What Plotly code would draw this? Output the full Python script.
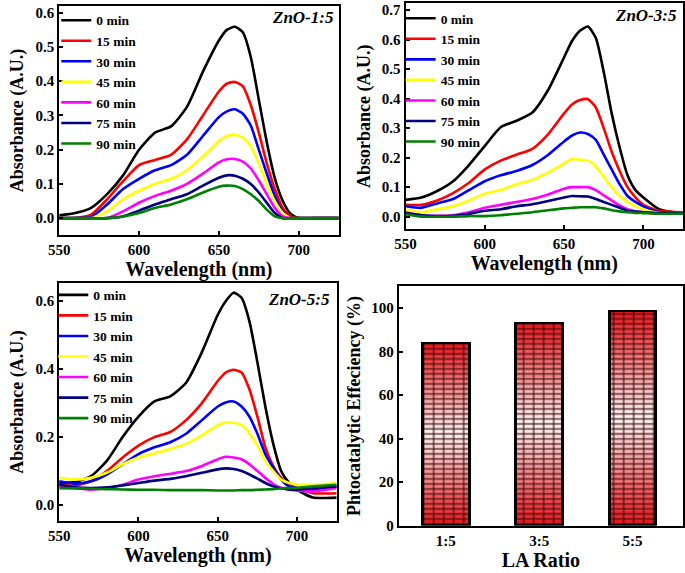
import plotly.graph_objects as go

# ---------------- data ----------------
wavelength = [550, 560, 570, 580, 590, 600, 610, 620, 630, 640, 650, 655, 660,
              665, 670, 675, 680, 685, 690, 695, 700, 710, 725]
times = ["0 min", "15 min", "30 min", "45 min", "60 min", "75 min", "90 min"]
colors = ["#000000", "#ff0000", "#0000ff", "#ffff00", "#ff00ff", "#000080", "#008000"]

zno_15 = [
    [0.008, 0.015, 0.03, 0.07, 0.125, 0.2, 0.25, 0.268, 0.325, 0.428, 0.519, 0.55, 0.559, 0.543, 0.47, 0.346, 0.222, 0.117, 0.05, 0.012, 0.0, 0.0, 0.0],
    [0.0, 0.0, 0.01, 0.055, 0.108, 0.155, 0.17, 0.185, 0.23, 0.3, 0.37, 0.393, 0.398, 0.385, 0.33, 0.25, 0.16, 0.085, 0.03, 0.005, 0.0, 0.0, 0.0],
    [0.0, 0.0, 0.003, 0.04, 0.085, 0.115, 0.14, 0.155, 0.185, 0.24, 0.295, 0.312, 0.318, 0.305, 0.27, 0.2, 0.13, 0.065, 0.02, 0.0, 0.0, 0.0, 0.0],
    [0.0, 0.0, 0.0, 0.02, 0.055, 0.08, 0.1, 0.115, 0.14, 0.18, 0.225, 0.24, 0.243, 0.235, 0.21, 0.16, 0.1, 0.05, 0.015, 0.0, 0.0, 0.0, 0.0],
    [0.0, 0.0, 0.0, 0.0, 0.02, 0.045, 0.065, 0.08, 0.1, 0.13, 0.163, 0.172, 0.173, 0.165, 0.145, 0.11, 0.07, 0.03, 0.005, 0.0, 0.0, 0.0, 0.0],
    [0.0, 0.0, 0.0, 0.0, 0.005, 0.022, 0.04, 0.055, 0.07, 0.095, 0.118, 0.125, 0.124, 0.115, 0.1, 0.075, 0.045, 0.015, 0.0, 0.0, 0.0, 0.0, 0.0],
    [0.0, 0.0, 0.0, 0.0, 0.005, 0.015, 0.03, 0.04, 0.055, 0.075, 0.092, 0.095, 0.094, 0.085, 0.07, 0.05, 0.025, 0.005, 0.0, 0.0, 0.0, 0.0, 0.0],
]

zno_35 = [
    [0.057, 0.065, 0.087, 0.12, 0.175, 0.24, 0.303, 0.325, 0.353, 0.43, 0.54, 0.595, 0.63, 0.644, 0.605, 0.49, 0.35, 0.235, 0.14, 0.09, 0.065, 0.025, 0.01],
    [0.04, 0.04, 0.055, 0.08, 0.115, 0.16, 0.19, 0.21, 0.23, 0.28, 0.35, 0.38, 0.395, 0.398, 0.37, 0.3, 0.22, 0.155, 0.1, 0.065, 0.04, 0.02, 0.015],
    [0.035, 0.03, 0.045, 0.06, 0.09, 0.12, 0.14, 0.155, 0.175, 0.21, 0.255, 0.275, 0.285, 0.28, 0.26, 0.21, 0.16, 0.11, 0.07, 0.05, 0.035, 0.015, 0.012],
    [0.025, 0.015, 0.025, 0.035, 0.055, 0.078, 0.09, 0.11, 0.125, 0.15, 0.18, 0.195, 0.193, 0.19, 0.17, 0.135, 0.1, 0.07, 0.05, 0.035, 0.025, 0.012, 0.012],
    [0.015, 0.005, 0.003, 0.005, 0.015, 0.03, 0.04, 0.05, 0.06, 0.075, 0.095, 0.1, 0.1, 0.1, 0.09, 0.072, 0.055, 0.038, 0.025, 0.018, 0.015, 0.01, 0.01],
    [0.012, 0.005, 0.002, 0.003, 0.01, 0.02, 0.025, 0.035, 0.042, 0.053, 0.065, 0.07, 0.069, 0.068, 0.06, 0.05, 0.04, 0.03, 0.02, 0.017, 0.015, 0.012, 0.012],
    [0.008, 0.0, 0.0, 0.0, 0.002, 0.002, 0.005, 0.01, 0.015, 0.022, 0.028, 0.03, 0.032, 0.032, 0.032, 0.028, 0.022, 0.018, 0.015, 0.013, 0.012, 0.01, 0.01],
]

zno_55 = [
    [0.065, 0.068, 0.085, 0.13, 0.2, 0.26, 0.305, 0.32, 0.36, 0.45, 0.56, 0.6, 0.625, 0.61, 0.54, 0.42, 0.29, 0.18, 0.1, 0.065, 0.045, 0.022, 0.022],
    [0.06, 0.058, 0.07, 0.1, 0.14, 0.175, 0.2, 0.215, 0.25, 0.3, 0.365, 0.39, 0.398, 0.39, 0.34, 0.26, 0.17, 0.115, 0.08, 0.06, 0.05, 0.035, 0.035],
    [0.07, 0.063, 0.07, 0.09, 0.12, 0.15, 0.17, 0.185, 0.21, 0.25, 0.29, 0.302, 0.305, 0.29, 0.26, 0.21, 0.15, 0.11, 0.075, 0.055, 0.05, 0.045, 0.055],
    [0.08, 0.075, 0.08, 0.095, 0.12, 0.14, 0.152, 0.165, 0.18, 0.205, 0.235, 0.243, 0.242, 0.235, 0.21, 0.175, 0.13, 0.1, 0.075, 0.065, 0.06, 0.06, 0.065],
    [0.055, 0.05, 0.045, 0.05, 0.06, 0.075, 0.085, 0.092, 0.1, 0.115, 0.135, 0.142, 0.14, 0.135, 0.12, 0.1, 0.08, 0.062, 0.05, 0.045, 0.042, 0.04, 0.05],
    [0.06, 0.052, 0.05, 0.052, 0.058, 0.065, 0.072, 0.077, 0.085, 0.095, 0.105, 0.108, 0.106, 0.1, 0.09, 0.078, 0.065, 0.055, 0.05, 0.046, 0.045, 0.05, 0.055],
    [0.05, 0.049, 0.048, 0.047, 0.046, 0.045, 0.045, 0.044, 0.044, 0.044, 0.043, 0.043, 0.043, 0.044, 0.044, 0.045, 0.046, 0.047, 0.049, 0.05, 0.051, 0.055, 0.06],
]

la_ratio = ["1:5", "3:5", "5:5"]
efficiency = [84, 93, 98.5]

# ---------------- figure ----------------
FONT = "Liberation Serif, Times New Roman, serif"
W, H = 685, 573

fig = go.Figure()

panels = [
    (zno_15, "x", "y", "legend"),
    (zno_35, "x2", "y2", "legend2"),
    (zno_55, "x3", "y3", "legend3"),
]
for data, xa, ya, lg in panels:
    for name, col, vals in zip(times, colors, data):
        fig.add_trace(go.Scatter(
            x=wavelength, y=vals, name=name, mode="lines",
            line=dict(color=col, width=2.6, shape="spline", smoothing=0.6),
            xaxis=xa, yaxis=ya, legend=lg,
        ))

# gradient brick bars: stacked segments
NSEG = 30
def mix(t):
    # t=1 -> red, t=0 -> white
    r = 255 - int(t * (255 - 238))
    g = int(255 - t * (255 - 25))
    b = int(255 - t * (255 - 30))
    return f"rgb({r},{g},{b})"

for k in range(NSEG):
    frac = (k + 0.5) / NSEG
    t = min(1.0, abs(frac - 0.5) * 2.1) ** 1.0
    fig.add_trace(go.Bar(
        x=la_ratio, y=[v / NSEG for v in efficiency],
        marker=dict(color=mix(t), line=dict(width=0),
                    pattern=dict(shape="-", size=5, solidity=0.3,
                                 fgcolor="#3a0808", fgopacity=0.85)),
        width=0.5, showlegend=False, xaxis="x4", yaxis="y4", hoverinfo="skip",
    ))
# vertical mortar + outline on overlay axes
fig.add_trace(go.Bar(
    x=la_ratio, y=efficiency, width=0.5, showlegend=False,
    marker=dict(color="rgba(255,255,255,0.01)", line=dict(color="black", width=2.6),
                pattern=dict(shape="|", size=10, solidity=0.14, fillmode="overlay",
                             fgcolor="#3a0808", fgopacity=0.8)),
    xaxis="x5", yaxis="y5", hoverinfo="skip",
))

def px_x(a, b):
    return [a / W, b / W]

def px_y(top, bot):
    return [1 - bot / H, 1 - top / H]

tickfont = dict(family=FONT, size=15, color="black", weight="bold")
common_x = dict(showline=True, linewidth=2, linecolor="black", mirror=True,
                ticks="inside", ticklen=4, tickwidth=1.5, tickcolor="black",
                showgrid=False, zeroline=False, tickfont=tickfont)
common_y = dict(common_x)

xt = dict(text="Wavelength (nm)", font=dict(family=FONT, size=20, color="black", weight="bold"), standoff=2)
yt = dict(text="Absorbance (A.U.)", font=dict(family=FONT, size=18, color="black", weight="bold"), standoff=7)

legend_common = dict(bgcolor="rgba(0,0,0,0)", font=dict(family=FONT, size=13.5, color="black", weight="bold"),
                     xanchor="left", yanchor="top", itemwidth=30, tracegroupgap=0, traceorder="normal")

fig.update_layout(
    width=W, height=H, margin=dict(l=0, r=0, t=0, b=0),
    paper_bgcolor="white", plot_bgcolor="white",
    font=dict(family=FONT, color="black", weight="bold"),
    barmode="stack", bargap=0,
    xaxis=dict(common_x, domain=px_x(49, 333), range=[550, 725], tickvals=[550, 600, 650, 700], title=xt, anchor="y"),
    yaxis=dict(common_y, domain=px_y(5, 238), range=[-0.05, 0.62], dtick=0.1, tickformat=".1f", title=yt, anchor="x"),
    xaxis2=dict(common_x, domain=px_x(401, 683), range=[550, 725], tickvals=[550, 600, 650, 700], title=xt, anchor="y2"),
    yaxis2=dict(common_y, domain=px_y(2, 232), range=[-0.043, 0.724], dtick=0.1, tickformat=".1f", title=yt, anchor="x2"),
    xaxis3=dict(common_x, domain=px_x(49, 331), range=[550, 725], tickvals=[550, 600, 650, 700], title=xt, anchor="y3"),
    yaxis3=dict(common_y, domain=px_y(287, 528), range=[-0.046, 0.652], dtick=0.2, tickformat=".1f", title=yt, anchor="x3"),
    xaxis4=dict(common_x, domain=px_x(394, 683), range=[-0.505, 2.54], ticks="", anchor="y4",
                title=dict(text="LA Ratio", font=dict(family=FONT, size=20, color="black", weight="bold"), standoff=2)),
    yaxis4=dict(common_y, domain=px_y(290, 533), range=[0, 110], tickvals=[0, 20, 40, 60, 80, 100], anchor="x4",
                title=dict(text="Phtocatalytic Effeciency (%)", font=dict(family=FONT, size=18, color="black", weight="bold"), standoff=6)),
    xaxis5=dict(domain=px_x(394, 683), range=[-0.505, 2.54], overlaying="x4", visible=False, anchor="y5"),
    yaxis5=dict(domain=px_y(290, 533), range=[0, 110], overlaying="y4", visible=False, anchor="x5"),
    legend=dict(legend_common, x=46 / W, y=1 - 4 / H),
    legend2=dict(legend_common, x=396 / W, y=1 - 2 / H),
    legend3=dict(legend_common, x=43 / W, y=1 - 283 / H),
)

ann_font = dict(family=FONT, size=17, color="black", weight="bold", style="italic")
fig.add_annotation(text="ZnO-1:5", xref="paper", yref="paper", x=330 / W, y=1 - 17 / H,
                   xanchor="right", yanchor="middle", showarrow=False, font=ann_font)
fig.add_annotation(text="ZnO-3:5", xref="paper", yref="paper", x=679 / W, y=1 - 15 / H,
                   xanchor="right", yanchor="middle", showarrow=False, font=ann_font)
fig.add_annotation(text="ZnO-5:5", xref="paper", yref="paper", x=326 / W, y=1 - 303 / H,
                   xanchor="right", yanchor="middle", showarrow=False, font=ann_font)

fig.write_html("out.html")
